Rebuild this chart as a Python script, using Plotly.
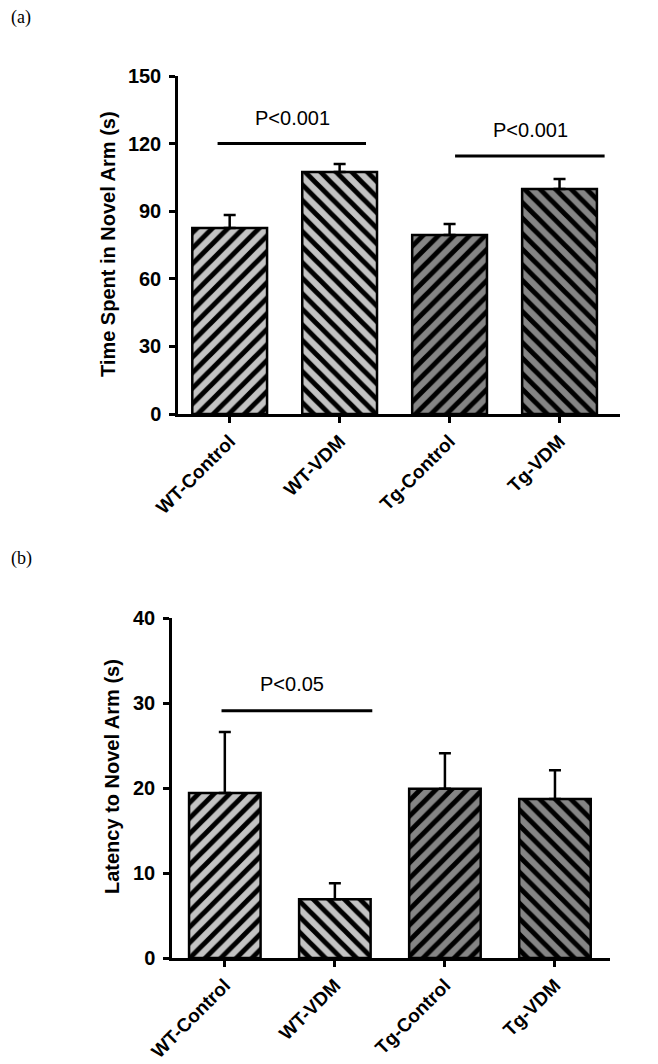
import plotly.graph_objects as go

# ---- data ----
categories = ["WT-Control", "WT-VDM", "Tg-Control", "Tg-VDM"]
time_mean = [82.5, 107.4, 79.4, 99.9]
time_err = [5.8, 3.6, 4.9, 4.4]
latency_mean = [19.4, 6.9, 19.9, 18.7]
latency_err = [7.2, 1.9, 4.2, 3.4]
y1_ticks = [0, 30, 60, 90, 120, 150]
y2_ticks = [0, 10, 20, 30, 40]
# significance brackets: (x0, x1, y, label, label_x, label_y)
sig_top = [(-0.11, 1.24, 120, "P<0.001", 0.57, 131.5),
           (2.05, 3.41, 114.5, "P<0.001", 2.74, 126)]
sig_bottom = [(-0.03, 1.34, 29.1, "P<0.05", 0.61, 32.2)]

colors = ["#c3c3c3", "#c3c3c3", "#858585", "#858585"]
shapes_pat = ["/", "\\", "/", "\\"]

W, H = 658, 1064
OFF = 8  # page body margin offset
def px_x(p):
    return (p - OFF) / W
def px_y(p):
    return 1 - (p - OFF) / H

xs = list(range(len(categories)))
fig = go.Figure()

for panel, (means, errs, xa, ya, bw) in enumerate([
        (time_mean, time_err, "x", "y", 0.68),
        (latency_mean, latency_err, "x2", "y2", 0.65)]):
    for i in xs:
        fig.add_trace(go.Bar(
            x=[xs[i]], y=[means[i]], xaxis=xa, yaxis=ya, width=bw,
            marker=dict(color=colors[i],
                        line=dict(color="black", width=2.5),
                        pattern=dict(shape=shapes_pat[i], fgcolor="black", fgopacity=1,
                                     bgcolor=colors[i], size=11, solidity=0.45)),
            error_y=dict(type="data", array=[errs[i]], arrayminus=[0],
                         symmetric=False, color="black", thickness=2.5, width=6),
            showlegend=False, hoverinfo="skip"))

font_ytick = dict(family="Liberation Sans, Arial", size=20, color="black", weight="bold")
font_xtick = dict(family="Liberation Sans, Arial", size=19, color="black", weight="bold")
axis_common = dict(showline=True, linecolor="black", linewidth=2.5, ticks="outside",
                   ticklen=6, tickwidth=2.5, tickcolor="black", showgrid=False,
                   zeroline=False, automargin=False)

fig.update_layout(
    width=W, height=H, margin=dict(l=0, r=0, t=0, b=0, autoexpand=False),
    paper_bgcolor="white", plot_bgcolor="white",
    xaxis=dict(domain=[px_x(178), px_x(620)], range=[-0.47, 3.55], anchor="y",
               tickvals=xs, ticktext=categories, tickangle=-45, tickfont=font_xtick,
               **axis_common),
    yaxis=dict(domain=[px_y(414), px_y(76)], range=[0, 150], anchor="x",
               tickvals=y1_ticks, ticklabelstandoff=4, tickfont=font_ytick, **axis_common),
    xaxis2=dict(domain=[px_x(172), px_x(610)], range=[-0.48, 3.5], anchor="y2",
                tickvals=xs, ticktext=categories, tickangle=-45, tickfont=font_xtick,
                **axis_common),
    yaxis2=dict(domain=[px_y(958), px_y(618)], range=[0, 40], anchor="x2",
                tickvals=y2_ticks, ticklabelstandoff=4, tickfont=font_ytick, **axis_common),
)

font_p = dict(family="Liberation Sans, Arial", size=20, color="black")
for sigs, xa, ya in [(sig_top, "x", "y"), (sig_bottom, "x2", "y2")]:
    for x0, x1, yv, lab, lx, ly in sigs:
        fig.add_shape(type="line", x0=x0, x1=x1, y0=yv, y1=yv, xref=xa, yref=ya,
                      line=dict(color="black", width=3))
        fig.add_annotation(x=lx, y=ly, xref=xa, yref=ya, text=lab, showarrow=False,
                           xanchor="center", yanchor="middle", font=font_p)

font_title = dict(family="Liberation Sans, Arial", size=20, color="black", weight="bold")
fig.add_annotation(x=px_x(108), y=px_y(244), xref="paper", yref="paper",
                   text="Time Spent in Novel Arm (s)", textangle=-90, showarrow=False,
                   xanchor="center", yanchor="middle", font=font_title)
fig.add_annotation(x=px_x(112), y=px_y(777), xref="paper", yref="paper",
                   text="Latency to Novel Arm (s)", textangle=-90, showarrow=False,
                   xanchor="center", yanchor="middle", font=font_title)

font_panel = dict(family="Liberation Serif, Times New Roman", size=18, color="black")
fig.add_annotation(x=px_x(9), y=px_y(17), xref="paper", yref="paper", text="(a)",
                   showarrow=False, xanchor="left", yanchor="middle", font=font_panel)
fig.add_annotation(x=px_x(9), y=px_y(558), xref="paper", yref="paper", text="(b)",
                   showarrow=False, xanchor="left", yanchor="middle", font=font_panel)

fig.write_html("out.html")
